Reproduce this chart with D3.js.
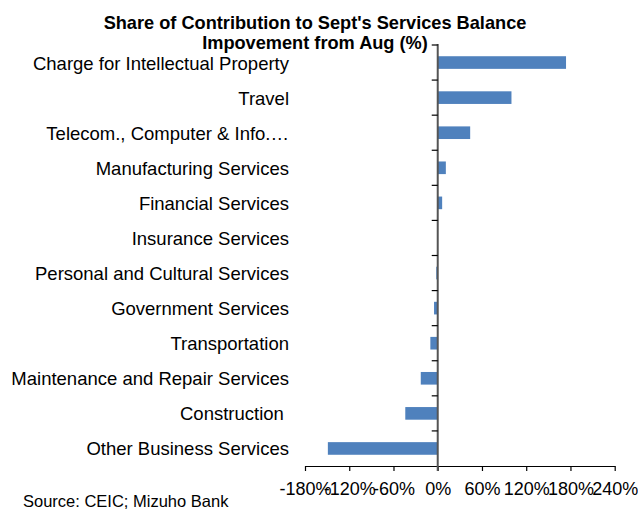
<!DOCTYPE html>
<html>
<head>
<meta charset="utf-8">
<script src="https://cdn.jsdelivr.net/npm/d3@7"></script>
<style>
  body { margin: 0; background: #fff; }
  svg { font-family: "Liberation Sans", Arial, sans-serif; }
  text { white-space: pre; }
</style>
</head>
<body>
<svg id="chart" width="638" height="511"></svg>
<script>
// Datos del gráfico
const categories = [
  "Charge for Intellectual Property",
  "Travel",
  "Telecom., Computer & Info.…",
  "Manufacturing Services",
  "Financial Services",
  "Insurance Services",
  "Personal and Cultural Services",
  "Government Services",
  "Transportation",
  "Maintenance and Repair Services",
  "Construction ",
  "Other Business Services"
];
const shares = [174, 100, 44, 11, 6, 0, -2, -5, -10, -23, -44, -149];
const xTicks = [-180, -120, -60, 0, 60, 120, 180, 240];
const titleLines = ["Share of Contribution to Sept's Services Balance", "Impovement from Aug (%)"];
const sourceText = "Source: CEIC; Mizuho Bank";

const svg = d3.select("#chart");

// Escalas
const x = d3.scaleLinear().domain([-180, 240]).range([305, 614.7]);
const y = d3.scaleBand().domain(categories).range([45, 466]).paddingInner(0.64).paddingOuter(0.32);

// Título
svg.append("text")
  .attr("text-anchor", "middle")
  .attr("font-weight", "bold")
  .attr("font-size", 18.2)
  .selectAll("tspan")
  .data(titleLines)
  .enter()
  .append("tspan")
  .attr("x", 315)
  .attr("y", (d, i) => 29 + i * 19.5)
  .text(d => d);

// Barras
svg.selectAll("rect.bar")
  .data(shares)
  .enter()
  .append("rect")
  .attr("class", "bar")
  .attr("x", d => x(Math.min(0, d)))
  .attr("y", (d, i) => y(categories[i]))
  .attr("width", d => Math.abs(x(d) - x(0)))
  .attr("height", y.bandwidth())
  .attr("fill", "#4f81bd");

// Eje X
const xAxis = svg.append("g")
  .attr("transform", "translate(0,466)")
  .call(d3.axisBottom(x).tickValues(xTicks).tickSize(5).tickSizeOuter(0).tickFormat(d => d + "%"));
xAxis.select(".domain").attr("stroke", "#000").attr("stroke-width", 1.2);
xAxis.selectAll(".tick line").attr("stroke", "#000").attr("stroke-width", 1.2);
xAxis.selectAll(".tick text")
  .attr("font-size", 18)
  .attr("font-family", "Liberation Sans, Arial, sans-serif")
  .attr("fill", "#000")
  .attr("dy", null)
  .attr("y", 29);

// Eje Y en 0 con marcas entre categorías
const yGroup = svg.append("g");
yGroup.append("line")
  .attr("x1", x(0)).attr("x2", x(0))
  .attr("y1", 44).attr("y2", 471)
  .attr("stroke", "#555")
  .attr("stroke-width", 2);
const boundaries = d3.range(categories.length).map(i => y(categories[i]) - y.step() * y.paddingInner() / 2);
yGroup.selectAll("line.tick")
  .data(boundaries)
  .enter()
  .append("line")
  .attr("class", "tick")
  .attr("x1", x(0) - 6).attr("x2", x(0))
  .attr("y1", d => d).attr("y2", d => d)
  .attr("stroke", "#000")
  .attr("stroke-width", 1.2);

// Etiquetas de categoría
svg.selectAll("text.cat")
  .data(categories)
  .enter()
  .append("text")
  .attr("class", "cat")
  .attr("x", 289)
  .attr("y", d => y(d) + y.bandwidth() / 2)
  .attr("dy", "0.38em")
  .attr("text-anchor", "end")
  .attr("font-size", 18.5)
  .text(d => d);

// Fuente
svg.append("text")
  .attr("x", 23)
  .attr("y", 507)
  .attr("font-size", 16.5)
  .text(sourceText);
</script>
</body>
</html>
